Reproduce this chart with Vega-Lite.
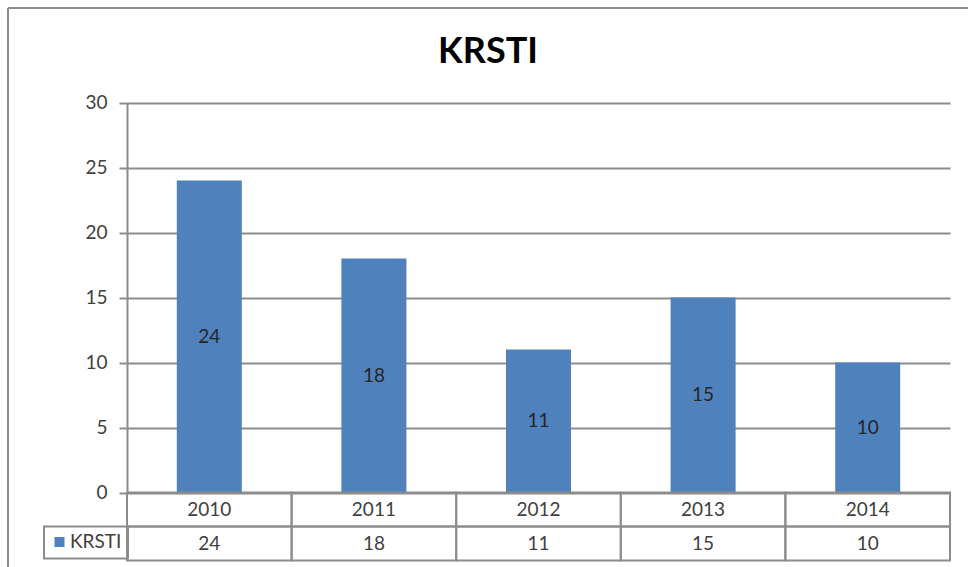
{
  "$schema": "https://vega.github.io/schema/vega-lite/v6.json",
  "width": 960,
  "height": 559,
  "autosize": {"type": "none"},
  "padding": {"left": 8, "top": 8, "right": 0, "bottom": 0},
  "background": "white",
  "title": {"text": "KRSTI", "anchor": "middle", "frame": "group", "offset": -63, "fontSize": 36, "font": "Lato", "fontWeight": "bold", "color": "#000000"},
  "config": {
    "view": {"stroke": "#8c8c8c", "strokeWidth": 2, "strokeDash": [960, 1519, 559, 0]},
    "font": "Lato",
    "legend": {"strokeColor": "#8c8c8c", "strokeWidth": 2, "padding": 6}
  },
  "data": {
    "values": [
      {"year": "2010", "KRSTI": 24},
      {"year": "2011", "KRSTI": 18},
      {"year": "2012", "KRSTI": 11},
      {"year": "2013", "KRSTI": 15},
      {"year": "2014", "KRSTI": 10}
    ]
  },
  "resolve": {"scale": {"y": "independent"}},
  "layer": [
    {
      "mark": {"type": "bar", "width": {"band": 0.395}},
      "encoding": {
        "x": {"field": "year", "type": "nominal", "sort": null, "scale": {"domain": ["2010", "2011", "2012", "2013", "2014"], "range": [119, 942], "paddingInner": 0, "paddingOuter": 0}, "axis": null},
        "y": {"field": "KRSTI", "type": "quantitative", "scale": {"domain": [0, 30], "range": [484.5, 94.5], "nice": false},
          "axis": {"orient": "left", "offset": -119, "values": [0, 5, 10, 15, 20, 25, 30], "title": null, "domainColor": "#8c8c8c", "domainWidth": 2, "tickColor": "#8c8c8c", "tickWidth": 2, "tickSize": 8, "labelFontSize": 19, "labelFont": "Lato", "labelColor": "#404040", "labelPadding": 12, "grid": true, "gridColor": "#8c8c8c", "gridWidth": 2}},
        "color": {"datum": "KRSTI", "scale": {"domain": ["KRSTI"], "range": ["#4F81BD"]},
          "legend": {"title": null, "orient": "none", "legendX": 36, "legendY": 518.5, "symbolType": "square", "symbolSize": 100, "symbolStrokeWidth": 0, "labelFontSize": 19, "labelFont": "Lato", "labelColor": "#404040", "labelOffset": 1}}
      }
    },
    {
      "mark": {"type": "text", "fontSize": 19, "font": "Lato", "color": "#262626"},
      "encoding": {
        "x": {"field": "year", "type": "nominal", "sort": null, "scale": {"domain": ["2010", "2011", "2012", "2013", "2014"], "range": [119, 942], "paddingInner": 0, "paddingOuter": 0}, "axis": null},
        "y": {"field": "KRSTI", "type": "quantitative", "scale": {"domain": [0, 60], "range": [484.5, 94.5], "nice": false}, "axis": null},
        "text": {"field": "KRSTI", "type": "quantitative"}
      }
    },
    {
      "transform": [{"fold": ["year", "KRSTI"], "as": ["row", "cell"]}],
      "layer": [
        {
          "mark": {"type": "rect", "filled": false, "color": "#8c8c8c", "stroke": "#8c8c8c", "strokeWidth": 2},
          "encoding": {
            "x": {"field": "year", "type": "nominal", "sort": null, "scale": {"domain": ["2010", "2011", "2012", "2013", "2014"], "range": [119, 942], "paddingInner": 0, "paddingOuter": 0}, "axis": null},
            "y": {"field": "row", "type": "nominal", "scale": {"domain": ["year", "KRSTI"], "range": [484.5, 552.5], "paddingInner": 0, "paddingOuter": 0}, "axis": null}
          }
        },
        {
          "mark": {"type": "text", "fontSize": 19, "font": "Lato", "color": "#404040"},
          "encoding": {
            "x": {"field": "year", "type": "nominal", "sort": null, "scale": {"domain": ["2010", "2011", "2012", "2013", "2014"], "range": [119, 942], "paddingInner": 0, "paddingOuter": 0}, "axis": null},
            "y": {"field": "row", "type": "nominal", "scale": {"domain": ["year", "KRSTI"], "range": [484.5, 552.5], "paddingInner": 0, "paddingOuter": 0}, "axis": null},
            "text": {"field": "cell", "type": "nominal"}
          }
        }
      ]
    }
  ]
}
